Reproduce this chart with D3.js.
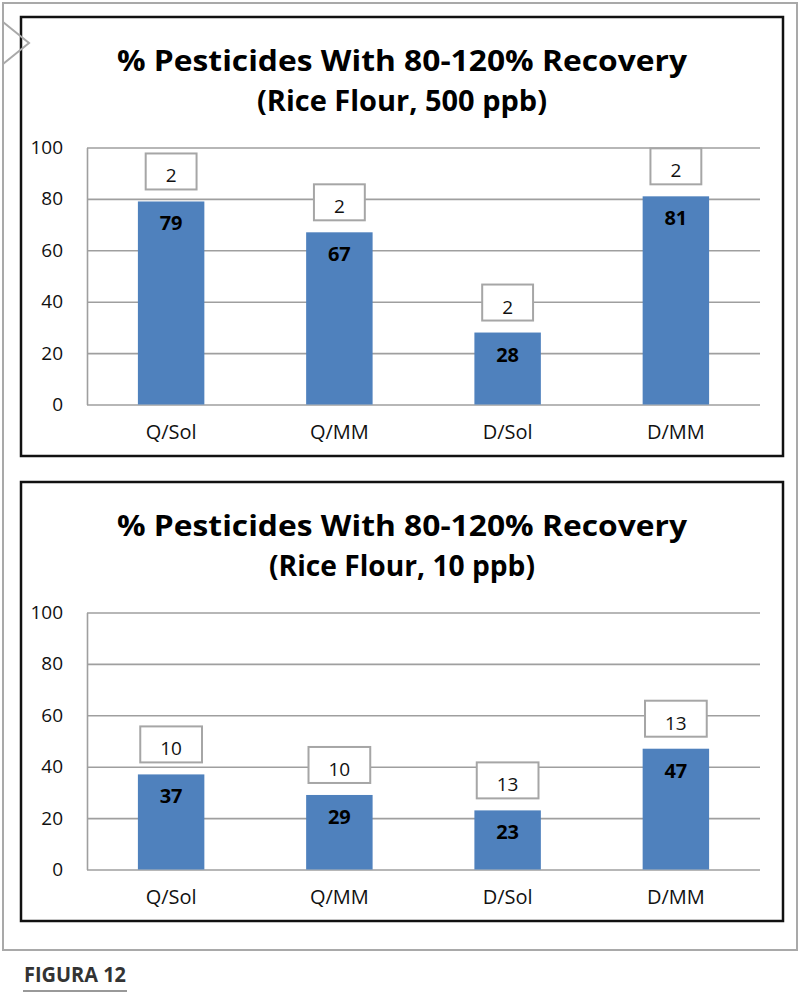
<!DOCTYPE html>
<html>
<head>
<meta charset="utf-8">
<script src="https://cdn.jsdelivr.net/npm/d3@7"></script>
<style>
  body { margin: 0; background: #fff; }
  svg { display: block; font-family: "Open Sans", sans-serif; }
</style>
</head>
<body>
<script>
// chart data
var categories = ["Q/Sol", "Q/MM", "D/Sol", "D/MM"];
var values500 = [79, 67, 28, 81];
var boxes500 = [2, 2, 2, 2];
var values10 = [37, 29, 23, 47];
var boxes10 = [10, 10, 13, 13];
var yTicks = [0, 20, 40, 60, 80, 100];
var titles500 = ["% Pesticides With 80-120% Recovery", "(Rice Flour, 500 ppb)"];
var titles10 = ["% Pesticides With 80-120% Recovery", "(Rice Flour, 10 ppb)"];
var figureLabel = "FIGURA 12";

var W = 800, H = 1002;
var svg = d3.select("body").append("svg")
  .attr("width", W)
  .attr("height", H);

// outer gray frame
svg.append("rect")
  .attr("x", 3).attr("y", 3)
  .attr("width", 794).attr("height", 947)
  .attr("fill", "#fff")
  .attr("stroke", "#a9a9a9")
  .attr("stroke-width", 2);

function drawPanel(top, titleLines, titleWidths, values, boxes) {
  var g = svg.append("g");
  var plotTop = top + 130.5, plotBottom = top + 387.5;
  var left = 87, right = 760;

  // black panel border
  g.append("rect")
    .attr("x", 21).attr("y", top)
    .attr("width", 762).attr("height", 439)
    .attr("fill", "#fff")
    .attr("stroke", "#111")
    .attr("stroke-width", 2.5);

  // title (two lines)
  titleLines.forEach(function(t, i) {
    g.append("text")
      .attr("x", 402)
      .attr("y", top + 54 + i * 40)
      .attr("text-anchor", "middle")
      .attr("font-size", 29)
      .attr("font-weight", "bold")
      .attr("fill", "#000")
      .attr("textLength", titleWidths[i])
      .attr("lengthAdjust", "spacingAndGlyphs")
      .text(t);
  });

  var x = d3.scaleBand()
    .domain(categories)
    .range([left, right])
    .paddingInner(0.605)
    .paddingOuter(0.3025);
  var y = d3.scaleLinear().domain([0, 100]).range([plotBottom, plotTop]);

  // gridlines + y labels
  var yAxis = g.append("g")
    .attr("transform", "translate(" + left + ",0)")
    .call(d3.axisLeft(y).tickValues(yTicks).tickSize(-(right - left)).tickSizeOuter(0).tickPadding(24));
  yAxis.selectAll(".tick line").attr("stroke", "#9f9f9f").attr("stroke-width", 1.6);
  yAxis.select(".domain").attr("stroke", "#9f9f9f").attr("stroke-width", 1.6);
  yAxis.selectAll(".tick text")
    .attr("font-size", 19)
    .attr("font-family", "Open Sans")
    .attr("fill", "#111");

  // x labels
  var xAxis = g.append("g")
    .attr("transform", "translate(0," + plotBottom + ")")
    .call(d3.axisBottom(x).tickSize(0));
  xAxis.select(".domain").remove();
  xAxis.selectAll(".tick text")
    .attr("y", 34)
    .attr("dy", null)
    .attr("font-size", 20)
    .attr("font-family", "Open Sans")
    .attr("fill", "#111");

  // bars
  g.selectAll(".bar")
    .data(values)
    .enter()
    .append("rect")
    .attr("class", "bar")
    .attr("x", function(d, i) { return x(categories[i]); })
    .attr("y", function(d) { return y(d); })
    .attr("width", x.bandwidth())
    .attr("height", function(d) { return plotBottom - y(d); })
    .attr("fill", "#4f81bd");

  // value labels inside bars
  g.selectAll(".barLabel")
    .data(values)
    .enter()
    .append("text")
    .attr("class", "barLabel")
    .attr("x", function(d, i) { return x(categories[i]) + x.bandwidth() / 2; })
    .attr("y", function(d) { return y(d) + 29; })
    .attr("text-anchor", "middle")
    .attr("font-size", 20)
    .attr("font-weight", "bold")
    .attr("fill", "#000")
    .text(function(d) { return d; });

  // boxed labels above the bars
  var box = g.selectAll(".boxLabel")
    .data(boxes)
    .enter()
    .append("g")
    .attr("class", "boxLabel");
  box.append("rect");
  box.append("text")
    .attr("x", function(d, i) { return x(categories[i]) + x.bandwidth() / 2; })
    .attr("y", function(d, i) { return y(values[i]) - 12 - 7; })
    .attr("text-anchor", "middle")
    .attr("font-size", 19)
    .attr("fill", "#111")
    .text(function(d) { return d; });
  box.each(function(d, i) {
    var t = d3.select(this).select("text");
    var tw = t.node().getComputedTextLength();
    var bw = tw + 40;
    var cx = x(categories[i]) + x.bandwidth() / 2;
    d3.select(this).select("rect")
      .attr("x", cx - bw / 2)
      .attr("y", y(values[i]) - 12 - 36)
      .attr("width", bw)
      .attr("height", 36)
      .attr("fill", "#fff")
      .attr("stroke", "#a6a6a6")
      .attr("stroke-width", 2);
  });
}

drawPanel(17, titles500, [570, 290], values500, boxes500);
drawPanel(482, titles10, [570, 266], values10, boxes10);

// tab on the left edge
svg.append("polyline")
  .attr("points", "3,22 29,43 3,64")
  .attr("fill", "none")
  .attr("stroke", "#a9a9a9")
  .attr("stroke-width", 2);

// figure caption
svg.append("text")
  .attr("x", 24)
  .attr("y", 982)
  .attr("font-size", 22)
  .attr("font-weight", "bold")
  .attr("fill", "#333")
  .attr("textLength", 102)
  .attr("lengthAdjust", "spacingAndGlyphs")
  .text(figureLabel);
svg.append("line")
  .attr("x1", 23).attr("x2", 127)
  .attr("y1", 991).attr("y2", 991)
  .attr("stroke", "#999")
  .attr("stroke-width", 2);
</script>
</body>
</html>
